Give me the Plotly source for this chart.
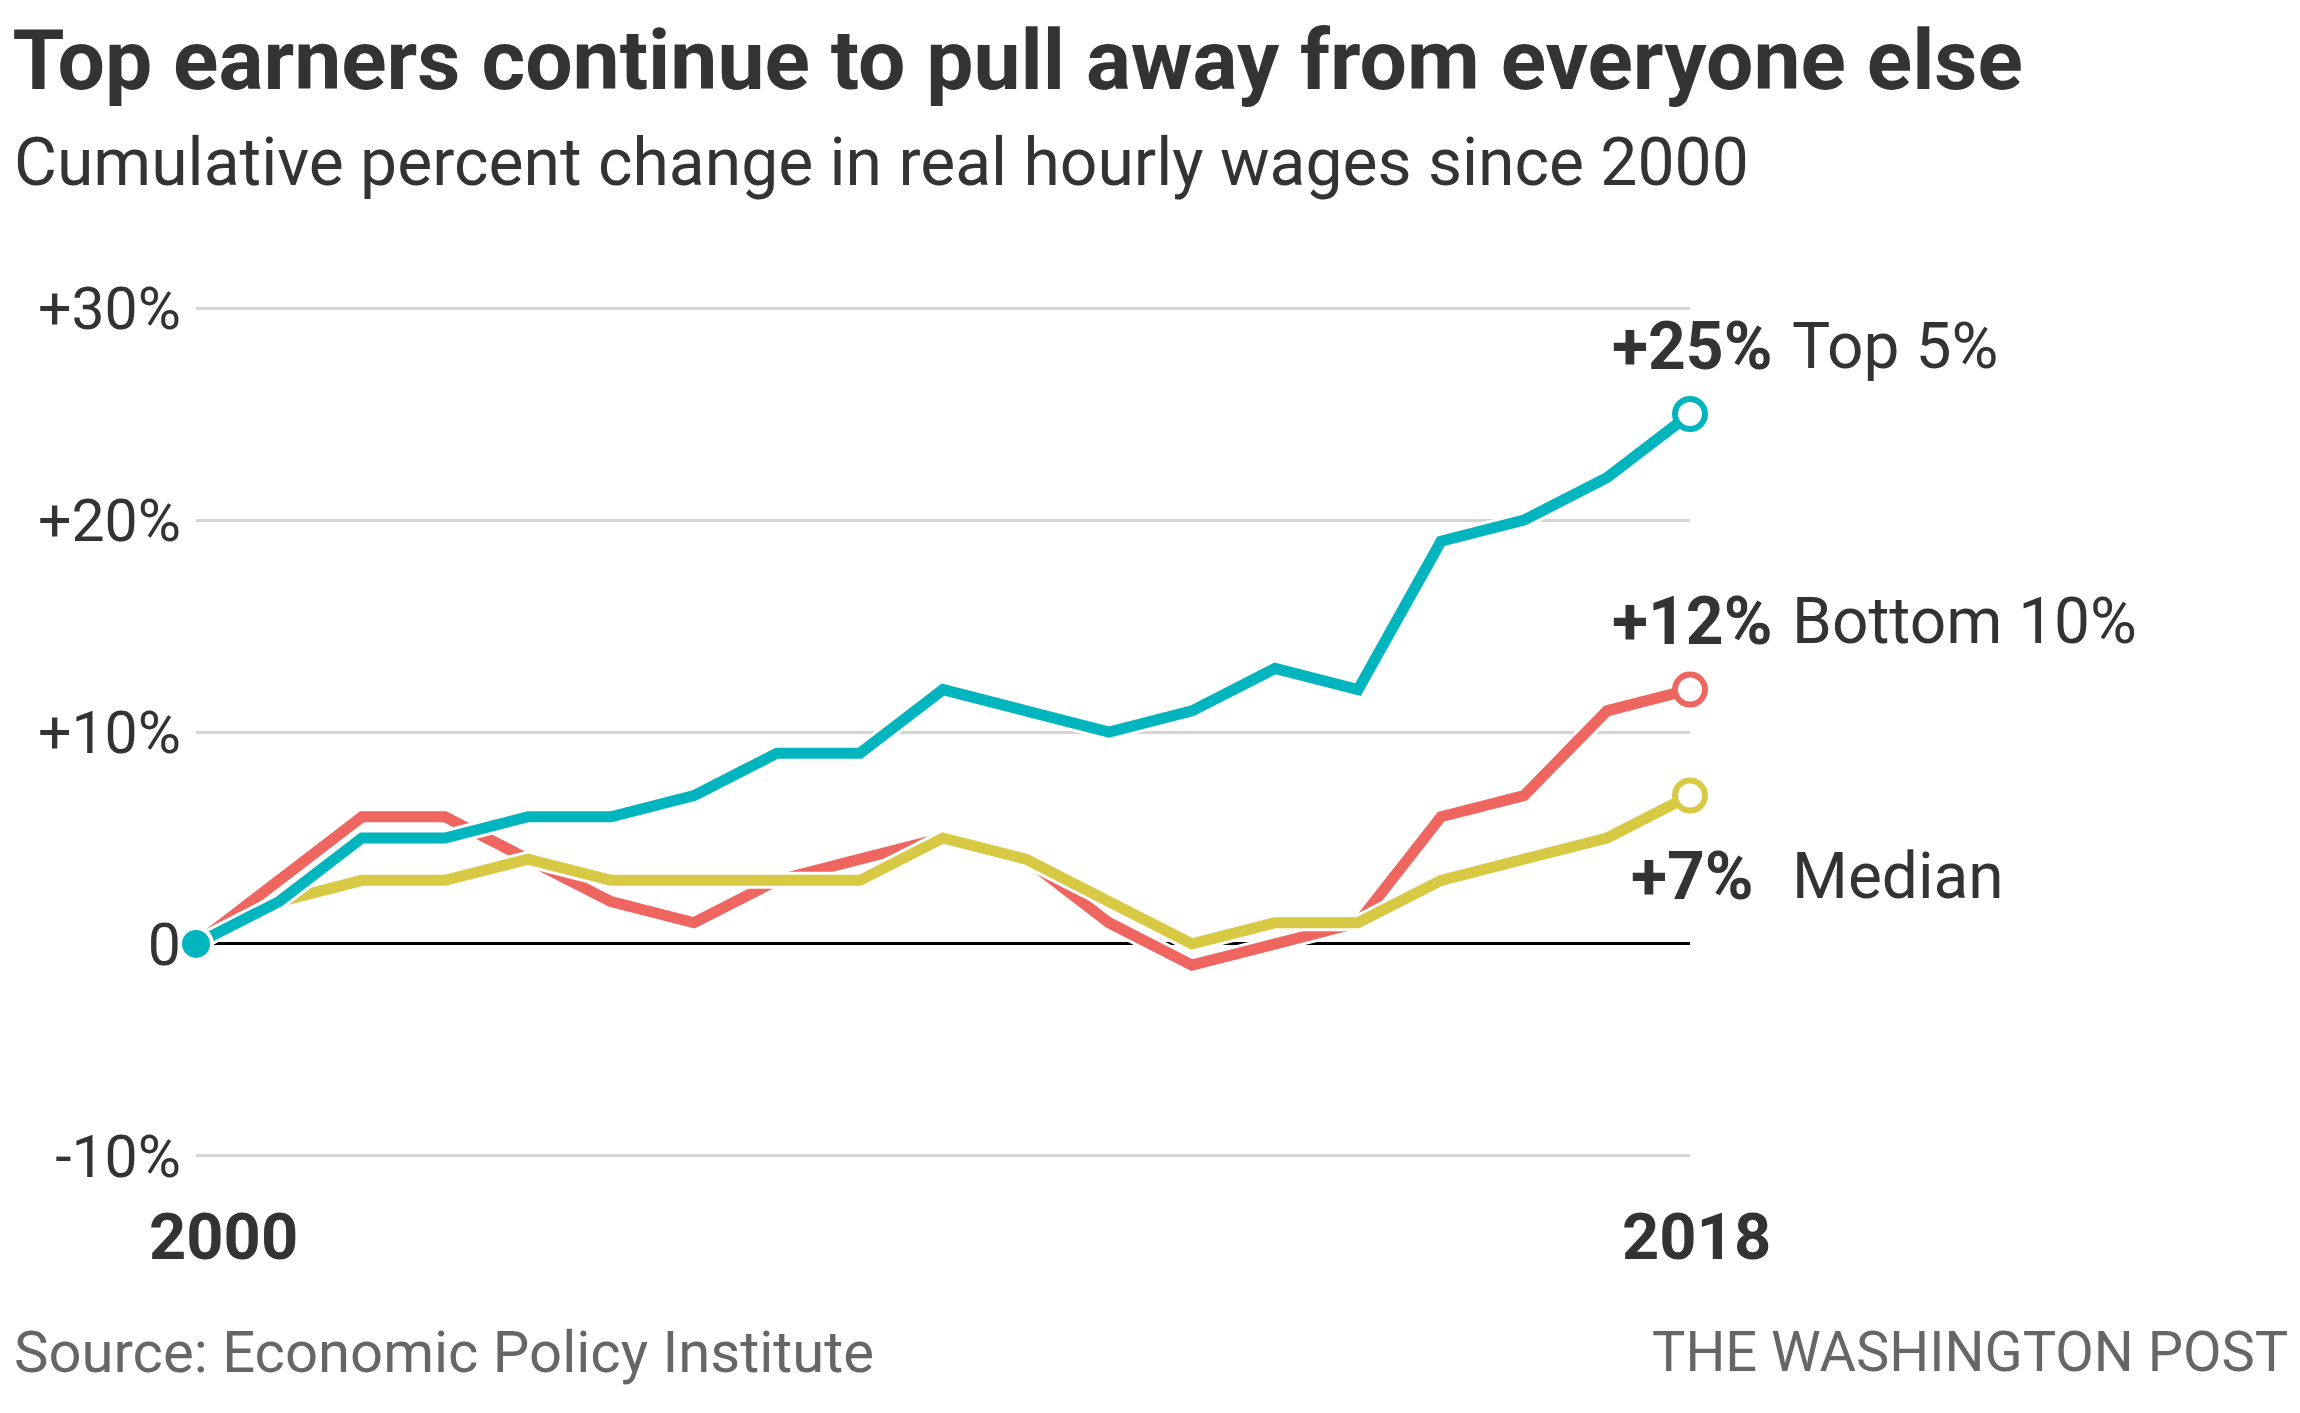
import plotly.graph_objects as go

# cumulative % change in real hourly wages since 2000
years = list(range(2000, 2019))
top5 = [0, 2, 5, 5, 6, 6, 7, 9, 9, 12, 11, 10, 11, 13, 12, 19, 20, 22, 25]
bottom10 = [0, 3, 6, 6, 4, 2, 1, 3, 4, 5, 4, 1, -1, 0, 1, 6, 7, 11, 12]
median = [0, 2, 3, 3, 4, 3, 3, 3, 3, 5, 4, 2, 0, 1, 1, 3, 4, 5, 7]

ytickvals = [-10, 0, 10, 20, 30]
yticktext = ["-10%", "0", "+10%", "+20%", "+30%"]

TEAL = "#00b5bd"
RED = "#ef6560"
YELLOW = "#d8c944"
DARK = "#333333"
GREY = "#666666"
FONT = "Roboto, sans-serif"

fig = go.Figure()

# red first, then yellow, teal on top; each with a thin white halo
for vals, col in [(bottom10, RED), (median, YELLOW), (top5, TEAL)]:
    fig.add_scatter(x=years, y=vals, mode="lines", line=dict(color="white", width=17),
                    hoverinfo="skip", cliponaxis=False)
    fig.add_scatter(x=years, y=vals, mode="lines", line=dict(color=col, width=11),
                    cliponaxis=False)
    fig.add_scatter(x=[years[-1]], y=[vals[-1]], mode="markers", cliponaxis=False,
                    marker=dict(size=30, color="white", line=dict(color=col, width=6)))

fig.add_scatter(x=[years[0]], y=[top5[0]], mode="markers", cliponaxis=False,
                marker=dict(size=32, color=TEAL, line=dict(color="white", width=4)))

labels = [("+25%", "Top 5%", 85, 28.2),
          ("+12%", "Bottom 10%", 85, 15.2),
          ("+7%", "Median", 66, 3.2)]
for pct, name, sh, ypos in labels:
    fig.add_annotation(x=years[-1], y=ypos, text="<b>" + pct + "</b>", showarrow=False,
                       xanchor="right", yanchor="middle", xshift=sh,
                       font=dict(family=FONT, size=66, color=DARK))
    fig.add_annotation(x=years[-1], y=ypos, text=name, showarrow=False,
                       xanchor="left", yanchor="middle", xshift=100,
                       font=dict(family=FONT, size=64, color=DARK))

# x labels
fig.add_annotation(x=years[0], y=0, yref="paper", text="<b>2000</b>", showarrow=False,
                   xshift=27, yshift=-79, yanchor="middle",
                   font=dict(family=FONT, size=65, color=DARK))
fig.add_annotation(x=years[-1], y=0, yref="paper", text="<b>2018</b>", showarrow=False,
                   xshift=6, yshift=-79, yanchor="middle",
                   font=dict(family=FONT, size=65, color=DARK))

# subtitle / footer
fig.add_annotation(x=-0.123, y=1.168, xref="paper", yref="paper", showarrow=False,
                   text="Cumulative percent change in real hourly wages since 2000",
                   xanchor="left", yanchor="middle",
                   font=dict(family=FONT, size=66, color=DARK))
fig.add_annotation(x=-0.123, y=-0.2276, xref="paper", yref="paper", showarrow=False,
                   text="Source: Economic Policy Institute",
                   xanchor="left", yanchor="middle",
                   font=dict(family=FONT, size=58, color=GREY))
fig.add_annotation(x=1.4016, y=-0.2276, xref="paper", yref="paper", showarrow=False,
                   text="THE WASHINGTON POST",
                   xanchor="right", yanchor="middle",
                   font=dict(family=FONT, size=56, color=GREY))

fig.update_xaxes(range=[2000, 2018], showgrid=False, zeroline=False,
                 showticklabels=False, showline=False)
fig.update_yaxes(range=[-10.1, 30.1], tickvals=ytickvals, ticktext=yticktext,
                 showgrid=True, gridcolor="#d4d4d4", gridwidth=3,
                 zeroline=True, zerolinecolor="black", zerolinewidth=3,
                 ticklabelstandoff=14,
                 tickfont=dict(family=FONT, size=59, color=DARK))

# page body adds an 8px margin, so the figure is 16px smaller than the window
fig.update_layout(width=2284, height=1397, showlegend=False,
                  plot_bgcolor="white", paper_bgcolor="white",
                  title=dict(text="<b>Top earners continue to pull away from everyone else</b>",
                             xref="container", yref="container", x=0.002, y=0.963,
                             xanchor="left", yanchor="middle",
                             font=dict(family=FONT, size=84, color=DARK)),
                  margin=dict(l=188, r=602, t=298, b=247))

fig.write_html("out.html")
